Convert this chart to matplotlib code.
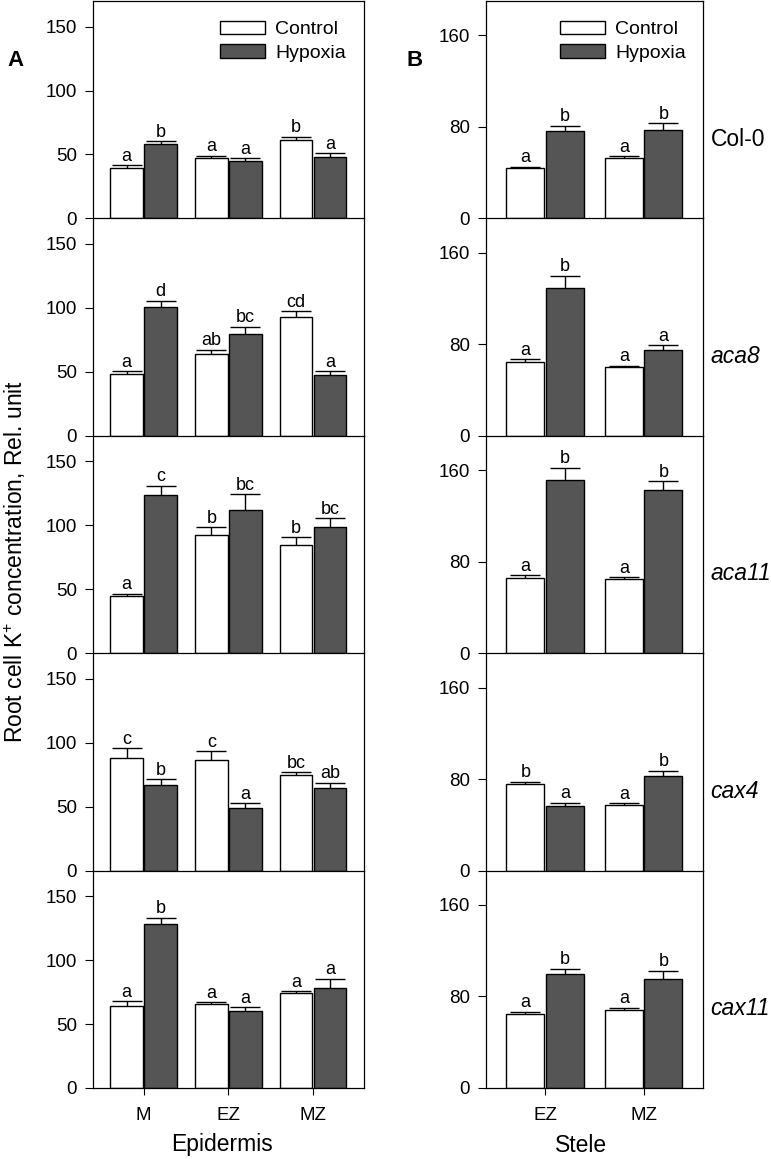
import numpy as np
import matplotlib
matplotlib.use('Agg')
import matplotlib.pyplot as plt

plt.rcParams['font.family'] = ['Liberation Sans', 'DejaVu Sans']
plt.rcParams['mathtext.fontset'] = 'custom'
plt.rcParams['mathtext.rm'] = 'Liberation Sans'

genotypes = ['Col-0', 'aca8', 'aca11', 'cax4', 'cax11']
epi_zones = ['M', 'EZ', 'MZ']
stele_zones = ['EZ', 'MZ']

# Epidermis (panel A), one row per genotype
epi_ctrl = [[39.7, 47.2, 61.6], [48.2, 64.1, 92.7], [44.6, 92.2, 84.3],
            [87.7, 86.2, 74.7], [64.5, 65.5, 73.9]]
epi_ctrl_err = [[2.0, 1.8, 2.3], [2.3, 3.2, 4.7], [1.9, 6.2, 6.3],
                [8.1, 7.0, 2.3], [3.4, 1.6, 1.8]]
epi_hyp = [[57.9, 45.1, 48.0], [101.0, 79.3, 47.6], [124.0, 112.3, 99.0],
           [66.8, 49.3, 64.2], [128.5, 60.6, 78.1]]
epi_hyp_err = [[2.6, 2.1, 2.9], [4.5, 6.0, 2.9], [7.0, 12.0, 6.5],
               [4.5, 3.2, 4.5], [4.7, 2.6, 7.3]]
epi_ctrl_let = [['a', 'a', 'b'], ['a', 'ab', 'cd'], ['a', 'b', 'b'],
                ['c', 'c', 'bc'], ['a', 'a', 'a']]
epi_hyp_let = [['b', 'a', 'a'], ['d', 'bc', 'a'], ['c', 'bc', 'bc'],
               ['b', 'a', 'ab'], ['b', 'a', 'a']]

# Stele (panel B)
ste_ctrl = [[43.7, 52.8], [64.8, 59.9], [65.7, 64.5], [75.9, 57.5], [65.1, 68.3]]
ste_ctrl_err = [[1.5, 1.7], [2.0, 1.5], [2.6, 1.8], [1.8, 1.5], [1.5, 2.0]]
ste_hyp = [[76.7, 77.3], [129.6, 74.7], [151.0, 142.5], [56.1, 82.9], [99.7, 95.1]]
ste_hyp_err = [[4.3, 6.1], [10.2, 4.4], [11.0, 7.6], [3.2, 4.4], [4.6, 7.3]]
ste_ctrl_let = [['a', 'a'], ['a', 'a'], ['a', 'a'], ['b', 'a'], ['a', 'a']]
ste_hyp_let = [['b', 'b'], ['b', 'a'], ['b', 'b'], ['a', 'b'], ['b', 'b']]

W, H = 771, 1159
fig = plt.figure(figsize=(W / 100, H / 100), dpi=100)

panel_h = 217.4
top_px = 1.0
dark = '#555555'


def draw_panel(ax, zones, ctrl, cerr, hyp, herr, clet, hlet, ymax, yticks, bottom):
    x = np.arange(len(zones))
    off, bw = 0.2, 0.385
    ax.set_facecolor('none')
    ax.bar(x - off, ctrl, bw, color='white', edgecolor='black', linewidth=1.0, zorder=2, label='Control')
    ax.bar(x + off, hyp, bw, color=dark, edgecolor='black', linewidth=1.0, zorder=2, label='Hypoxia')
    for xs, vals, errs, lets in [(x - off, ctrl, cerr, clet), (x + off, hyp, herr, hlet)]:
        vals = np.array(vals)
        errs = np.array(errs)
        eb = ax.errorbar(xs, vals, yerr=[np.zeros_like(errs), errs], fmt='none',
                         ecolor='black', elinewidth=1.0, capsize=11, capthick=1.0, zorder=3)
        eb[1][0].set_visible(False)
        for xi, v, e, l in zip(xs, vals, errs, lets):
            ax.text(xi, v + e + ymax * 0.002, l, ha='center', va='bottom', fontsize=13)
    ax.set_xlim(-0.6, len(zones) - 0.4)
    ax.set_ylim(0, ymax)
    ax.set_yticks(yticks)
    ax.tick_params(axis='y', direction='out', length=5.5, width=0.8, labelsize=13.5, pad=6)
    ax.spines['top'].set_visible(False)
    for s in ['left', 'right', 'bottom']:
        ax.spines[s].set_linewidth(0.9)
        ax.spines[s].set_zorder(5)
    if bottom:
        ax.set_xticks(x)
        ax.set_xticklabels(zones)
        ax.tick_params(axis='x', direction='out', length=5, width=0.8, labelsize=13.5, pad=9)
    else:
        ax.set_xticks([])


axes_l, axes_r = [], []
for i in range(5):
    y0 = 1 - (top_px + (i + 1) * panel_h) / H
    axl = fig.add_axes([92.7 / W, y0, (364 - 92.7) / W, panel_h / H])
    axr = fig.add_axes([486 / W, y0, (702.7 - 486) / W, panel_h / H])
    draw_panel(axl, epi_zones, epi_ctrl[i], epi_ctrl_err[i], epi_hyp[i], epi_hyp_err[i],
               epi_ctrl_let[i], epi_hyp_let[i], 170, [0, 50, 100, 150], i == 4)
    draw_panel(axr, stele_zones, ste_ctrl[i], ste_ctrl_err[i], ste_hyp[i], ste_hyp_err[i],
               ste_ctrl_let[i], ste_hyp_let[i], 190, [0, 80, 160], i == 4)
    style = 'normal' if i == 0 else 'italic'
    axr.text(710.7 / W, y0 + 0.365 * panel_h / H, genotypes[i], transform=fig.transFigure,
             ha='left', va='center', fontsize=16.5, style=style)
    axes_l.append(axl)
    axes_r.append(axr)

for ax in (axes_l[0], axes_r[0]):
    ax.spines['top'].set_visible(True)
    ax.spines['top'].set_linewidth(0.9)

leg_kw = dict(loc='upper left', frameon=False, fontsize=14, handlelength=2.3,
              handleheight=0.7, handletextpad=0.55, labelspacing=0.3,
              borderaxespad=0, borderpad=0)
axes_l[0].legend(bbox_to_anchor=(0.469, 0.91), **leg_kw)
axes_r[0].legend(bbox_to_anchor=(0.341, 0.91), **leg_kw)

fig.text(15 / W, 1 - 61 / H, 'A', fontsize=16, fontweight='bold', ha='center', va='center')
fig.text(415 / W, 1 - 61 / H, 'B', fontsize=16, fontweight='bold', ha='center', va='center')

fig.text(15 / W, 1 - 562 / H, 'Root cell K$^{+}$ concentration, Rel. unit', rotation=90,
         ha='center', va='center', fontsize=16.5)
fig.text(222.5 / W, 1 - 1145 / H, 'Epidermis', ha='center', va='center', fontsize=16.5)
fig.text(581 / W, 1 - 1145 / H, 'Stele', ha='center', va='center', fontsize=16.5)

fig.savefig('out.png', dpi=100)
